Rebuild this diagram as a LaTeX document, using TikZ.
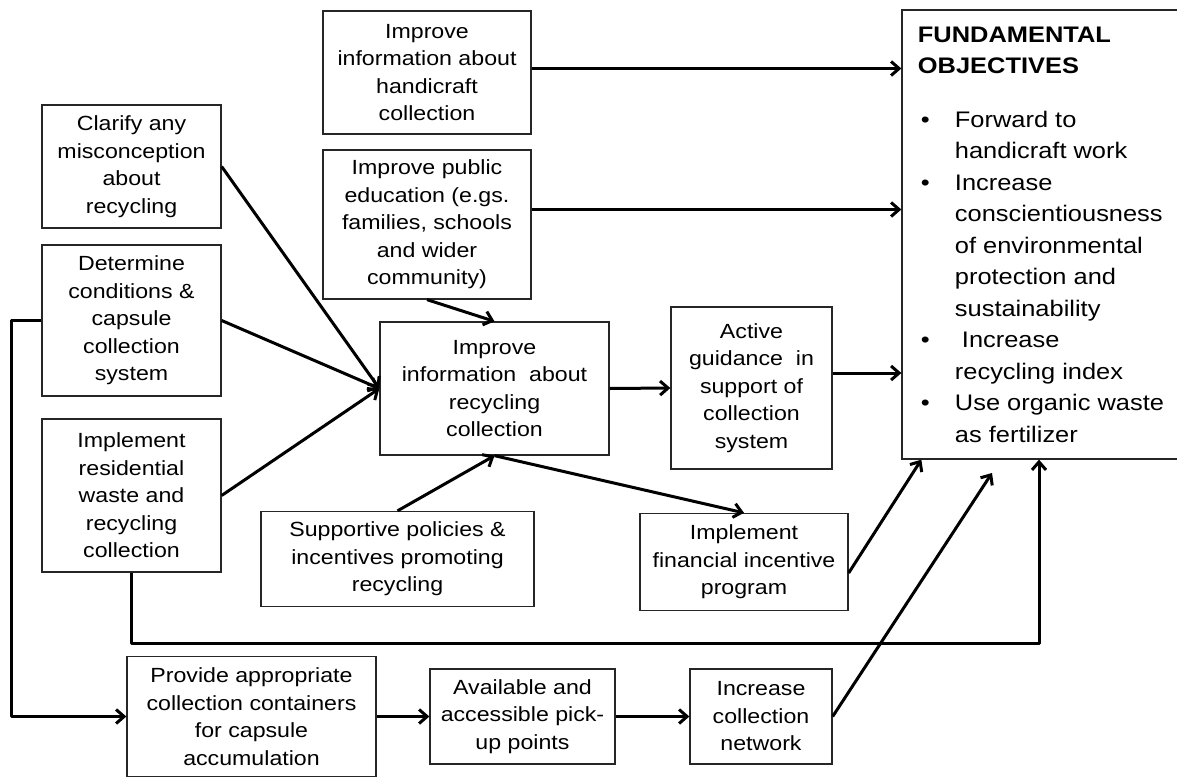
\documentclass[tikz,border=0pt]{standalone}
\usepackage{fontspec}
\setmainfont{Liberation Sans}[FakeStretch=1.13]
\usetikzlibrary{arrows.meta}

% bullet and hanging indent for the objectives list
\newcommand{\itm}{\makebox[37pt][l]{\hspace{3pt}\textbullet}}
\newcommand{\ind}{\hspace*{37pt}}

\tikzset{
  blk/.style={draw=black!85, line width=1.3pt, align=center, inner sep=0pt,
    font=\fontsize{20.5}{27.5}\selectfont},
  link/.style={line width=3pt, line join=round,
    -{Straight Barb[length=8pt,width=14pt]}},
}

\begin{document}
\begin{tikzpicture}[x=1pt,y=-1pt]
\useasboundingbox (0,0) rectangle (1177,776);

% Left column
\node[blk, minimum width=179, minimum height=123] (clar) at (131.5,166.5) {Clarify any\\misconception\\about\\recycling};
\node[blk, minimum width=179, minimum height=151] (det) at (131.5,320.5) {Determine\\conditions \&\\capsule\\collection\\system};
\node[blk, minimum width=179, minimum height=153] (res) at (131.5,495.5) {Implement\\residential\\waste and\\recycling\\collection};

% Middle boxes
\node[blk, minimum width=208, minimum height=123] (hand) at (427,72.5) {Improve\\information about\\handicraft\\collection};
\node[blk, minimum width=208, minimum height=149] (edu) at (427,224.5) {Improve public\\education (e.gs.\\families, schools\\and wider\\community)};
\node[blk, minimum width=229, minimum height=133] (rec) at (494.5,388.5) {Improve\\information\ \ about\\recycling\\collection};
\node[blk, minimum width=161, minimum height=162] (act) at (751.5,388) {Active\\guidance\ \ in\\support of\\collection\\system};
\node[blk, minimum width=273, minimum height=95] (sup) at (397.5,559) {Supportive policies \&\\incentives promoting\\recycling};
\node[blk, minimum width=208, minimum height=97] (fin) at (744,562) {Implement\\financial incentive\\program};

% Bottom row
\node[blk, minimum width=249, minimum height=120] (prov) at (251.5,716.5) {Provide appropriate\\collection containers\\for capsule\\accumulation};
\node[blk, minimum width=185, minimum height=95] (avail) at (522.5,716.5) {Available and\\accessible pick-\\up points};
\node[blk, minimum width=142, minimum height=95] (net) at (761,716.5) {Increase\\collection\\network};

% Objectives
\node[blk, minimum width=278, minimum height=449, align=left,
  font=\fontsize{22.5}{31.5}\selectfont] (obj) at (1041,234.5) {%
\textbf{FUNDAMENTAL}\\
\textbf{OBJECTIVES}\\[22pt]
\itm Forward to\\
\ind handicraft work\\
\itm Increase\\
\ind conscientiousness\\
\ind of environmental\\
\ind protection and\\
\ind sustainability\\
\itm\ Increase\\
\ind recycling index\\
\itm Use organic waste\\
\ind as fertilizer};

% Arrows
\draw[link] ([yshift=4pt]hand.east) -- ([yshift=4pt]hand.east -| obj.west);
\draw[link] ([yshift=15pt]edu.east) -- ([yshift=15pt]edu.east -| obj.west);
\draw[link] ([yshift=15pt]act.east) -- ([yshift=15pt]act.east -| obj.west);
\draw[link] (clar.east) -- (rec.west);
\draw[link] (det.east) -- (rec.west);
\draw[link] (res.east) -- (rec.west);
\draw[link] (edu.south) -- (rec.north);
\draw[link] (sup.north) -- (rec.south);
\draw[link] (rec.east) -- (act.west);
\draw[link] (rec.south) -- (fin.north);
\draw[link] ([yshift=-11pt]fin.east) -- ([xshift=20pt]obj.south west);
\coordinate (netend) at (992,473);
\draw[link] (net.east) -- (netend);
\draw[link] (res.south) -- ++(0,71) -| ([xshift=-2pt]obj.south);
\draw[link] (det.west) -- ++(-30,0) |- (prov.west);
\draw[link] (prov.east) -- (avail.west);
\draw[link] (avail.east) -- (net.west);
\end{tikzpicture}
\end{document}
